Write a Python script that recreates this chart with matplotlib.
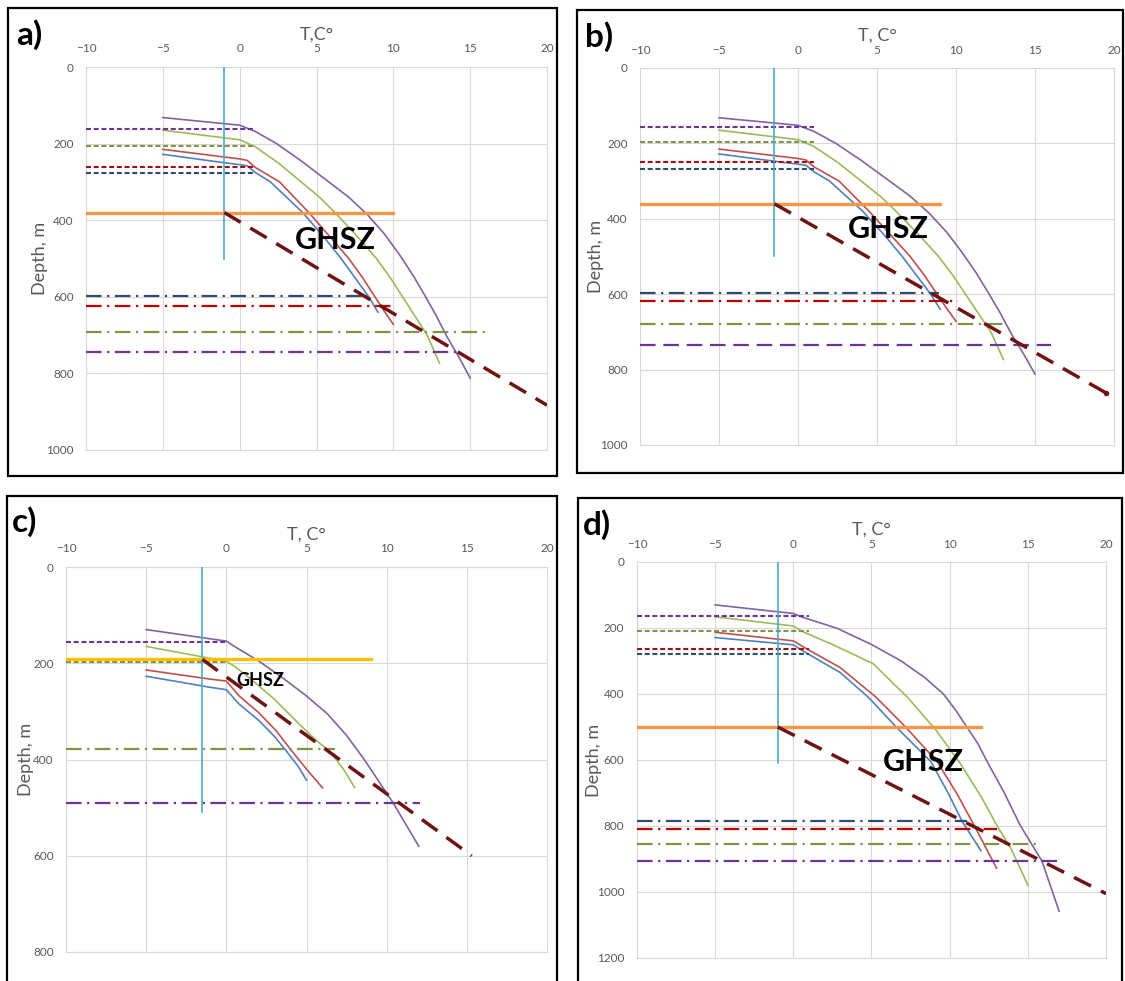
import matplotlib.pyplot as plt
from matplotlib.patches import Rectangle

plt.rcParams['font.family'] = ['Lato', 'DejaVu Sans']

W, H = 1125, 981

# ---- temperature profiles (T in C, depth in m) ----
# panels a) and b) use the same four profiles
ab_purple_t = [-5, 0, 1, 2.4, 4, 5.8, 7.1, 8.3, 9.4, 10.4, 11.3, 12.1, 12.8, 13.5, 14.3, 15]
ab_purple_d = [132, 152, 168, 200, 245, 300, 340, 385, 435, 490, 545, 600, 650, 705, 760, 812]
ab_green_t = [-5, 0, 1, 2.5, 4, 5.2, 6.2, 7.6, 8.9, 9.8, 10.6, 11.4, 12.2, 13]
ab_green_d = [165, 190, 208, 250, 300, 340, 380, 440, 500, 550, 600, 650, 700, 773]
ab_red_t = [-5, -1, 0, 0.5, 1, 2.6, 4.5, 5.8, 7.1, 8, 8.8, 9.4, 10]
ab_red_d = [215, 235, 240, 244, 262, 300, 380, 440, 500, 550, 600, 637, 672]
ab_blue_t = [-5, -1, 0, 0.5, 1, 2, 3, 4.1, 5.4, 6.6, 7.5, 8.4, 9]
ab_blue_d = [228, 250, 255, 258, 275, 300, 338, 380, 440, 500, 550, 600, 640]

c_purple_t = [-5, 0, 0.5, 2, 3.5, 5, 6.3, 7.5, 8.6, 9.5, 10.4, 11.2, 12]
c_purple_d = [130, 154, 165, 195, 230, 268, 305, 350, 400, 445, 490, 535, 580]
c_green_t = [-5, 0, 0.5, 1.5, 3, 4.5, 5.6, 6.5, 7.3, 8]
c_green_d = [165, 196, 206, 232, 275, 325, 360, 385, 420, 458]
c_red_t = [-5, -1, 0, 0.8, 2, 3.1, 4.1, 5, 6]
c_red_d = [214, 233, 237, 268, 302, 340, 383, 420, 459]
c_blue_t = [-5, -1, 0, 0.8, 2, 3, 3.8, 4.5, 5]
c_blue_d = [227, 250, 255, 285, 318, 352, 385, 415, 443]

d_purple_t = [-5, 0, 0.5, 2.8, 5, 6.9, 8.4, 9.6, 10.4, 11.1, 11.8, 12.4, 13.5, 14.5, 15.9, 16.4, 17]
d_purple_d = [130, 156, 166, 201, 250, 300, 350, 400, 450, 500, 550, 605, 700, 797, 906, 975, 1058]
d_green_t = [-5, 0, 0.5, 2.5, 5.1, 7.3, 9.1, 10.7, 12, 13.1, 13.9, 15]
d_green_d = [166, 194, 209, 250, 308, 410, 508, 612, 710, 805, 866, 979]
d_red_t = [-5, 0, 0.7, 3, 5.3, 7.2, 9.2, 10.5, 11.7, 13]
d_red_d = [213, 239, 259, 320, 410, 501, 605, 705, 810, 928]
d_blue_t = [-5, 0, 0.7, 3, 4.8, 6.6, 8.8, 9.9, 10.8, 12]
d_blue_d = [229, 251, 272, 335, 410, 501, 605, 700, 786, 875]

# ---- horizontal marker lines: depth and right-hand end temperature ----
a_short_depth = [163, 205, 261, 278]
a_short_end = [1, 1, 1, 1]
a_deep_depth = [597, 623, 693, 743]
a_deep_end = [8.3, 10, 16, 14.3]
b_short_depth = [157, 196, 250, 267]
b_short_end = [1, 1, 1, 1]
b_deep_depth = [597, 617, 680, 735]
b_deep_end = [8.9, 10.1, 13, 16]
c_short_depth = [156, 197]
c_short_end = [0, 0]
c_deep_depth = [378, 490]
c_deep_end = [6.8, 12.1]
d_short_depth = [164, 208, 263, 280]
d_short_end = [1, 1, 1, 1]
d_deep_depth = [786, 808, 855, 905]
d_deep_end = [11.1, 13, 15.6, 17]

# freezing line (T, bottom depth), sea-floor line (depth, end T), GHSZ base line
a_cyan = (-1, 500)
b_cyan = (-1.5, 500)
c_cyan = (-1.5, 510)
d_cyan = (-1, 610)
a_floor = (380, 10)
b_floor = (360, 9)
c_floor = (192, 9)
d_floor = (500, 12)
a_ghsz_t, a_ghsz_d = [-1, 20], [380, 883]
b_ghsz_t, b_ghsz_d = [-1.5, 19.5], [360, 862]
c_ghsz_t, c_ghsz_d = [-1.5, 15.3], [192, 600]
d_ghsz_t, d_ghsz_d = [-1, 20], [500, 1005]
a_text = (6.2, 453)
b_text = (5.7, 428)
c_text = (2.1, 235)
d_text = (8.3, 606)

# ---- styles ----
PURPLE, GREEN, RED, BLUE = '#8064A2', '#9BBB59', '#C0504D', '#4F81BD'
D_PURPLE, D_OLIVE, D_RED, D_BLUE, D_RED2 = '#6A3596', '#7F9448', '#A01010', '#2F4B70', '#C00000'
CYAN, ORANGE, YELLOW, GHSZ = '#4BACC6', '#F79646', '#FFC000', '#6E1414'
GREY = '#595959'
SHORT_DASH = (2.4, 1.3)
DASH_DOT = (7, 2.5, 1, 2.5)
LONG_DASH = (7, 3.5)


def frame(x0, y0, x1, y1):
    fig.add_artist(Rectangle((x0 / W, 1 - y1 / H), (x1 - x0) / W, (y1 - y0) / H,
                             transform=fig.transFigure, fill=False, ec='black', lw=1.6))


def make_axes(x0, y0, x1, y1):
    return fig.add_axes([x0 / W, 1 - y1 / H, (x1 - x0) / W, (y1 - y0) / H])


def draw_panel(ax, curves, short, deep, cyan, floor, floor_col, ghsz, text, text_size,
               ymax, xlabel, ylabel_x):
    ax.set_xlim(-10, 20)
    ax.set_ylim(ymax, 0)
    ax.set_xticks(range(-10, 21, 5))
    ax.set_yticks(range(0, ymax + 1, 200))
    ax.xaxis.tick_top()
    ax.xaxis.set_label_position('top')
    ax.tick_params(length=0, labelsize=8.5, labelcolor=GREY, pad=9)
    ax.grid(True, color='#D9D9D9', lw=0.8)
    for s in ax.spines.values():
        s.set_color('#D9D9D9')
        s.set_linewidth(0.8)
    ax.set_axisbelow(True)
    ax.set_xlabel(xlabel, fontsize=13, color=GREY, labelpad=3)
    ax.set_ylabel('Depth, m', fontsize=13, color=GREY)
    ax.yaxis.set_label_coords(ylabel_x, 0.5)

    for t, d, col in curves:
        ax.plot(t, d, color=col, lw=1.2, zorder=3)
    for depth, end, col in short:
        ax.plot([-10, end], [depth, depth], color=col, lw=1.5, dashes=SHORT_DASH, zorder=4)
    for depth, end, col, dash in deep:
        ax.plot([-10, end], [depth, depth], color=col, lw=1.6, dashes=dash, zorder=4)
    ax.plot([cyan[0], cyan[0]], [0, cyan[1]], color=CYAN, lw=1.2, zorder=5)
    ax.plot([-10, floor[1]], [floor[0], floor[0]], color=floor_col, lw=2.4, zorder=5)
    ax.plot(ghsz[0], ghsz[1], color=GHSZ, lw=2.5, dashes=(5.5, 3.2), zorder=6)
    ax.text(text[0], text[1], 'GHSZ', fontsize=text_size, fontweight='bold',
            ha='center', va='center', zorder=7)


fig = plt.figure(figsize=(W / 100, H / 100), dpi=100)

frame(8, 8, 557, 476)
frame(577, 10, 1123, 473)
frame(7, 496, 557, 990)
frame(578, 498, 1122, 990)

ax_a = make_axes(86, 67, 547, 450)
ax_b = make_axes(640, 68, 1114, 445)
ax_c = make_axes(66, 567, 547, 952)
ax_d = make_axes(637, 562, 1106, 958)

short4 = [D_PURPLE, D_OLIVE, D_RED, D_BLUE]
deep4 = [D_BLUE, D_RED2, D_OLIVE, D_PURPLE]

ab_curves = [(ab_purple_t, ab_purple_d, PURPLE), (ab_green_t, ab_green_d, GREEN),
             (ab_red_t, ab_red_d, RED), (ab_blue_t, ab_blue_d, BLUE)]

draw_panel(ax_a, ab_curves,
           list(zip(a_short_depth, a_short_end, short4)),
           list(zip(a_deep_depth, a_deep_end, deep4, [DASH_DOT] * 4)),
           a_cyan, a_floor, ORANGE, (a_ghsz_t, a_ghsz_d), a_text, 22, 1000, 'T,C°', -0.083)

draw_panel(ax_b, ab_curves,
           list(zip(b_short_depth, b_short_end, short4)),
           list(zip(b_deep_depth, b_deep_end, deep4, [DASH_DOT] * 3 + [LONG_DASH])),
           b_cyan, b_floor, ORANGE, (b_ghsz_t, b_ghsz_d), b_text, 22, 1000, 'T, C°', -0.077)
ax_b.plot(b_ghsz_t[-1], b_ghsz_d[-1], 'o', color=GHSZ, ms=3, zorder=6)

draw_panel(ax_c, [(c_purple_t, c_purple_d, PURPLE), (c_green_t, c_green_d, GREEN),
                  (c_red_t, c_red_d, RED), (c_blue_t, c_blue_d, BLUE)],
           list(zip(c_short_depth, c_short_end, [D_PURPLE, D_OLIVE])),
           list(zip(c_deep_depth, c_deep_end, [D_OLIVE, D_PURPLE], [DASH_DOT] * 2)),
           c_cyan, c_floor, YELLOW, (c_ghsz_t, c_ghsz_d), c_text, 13, 800, 'T, C°', -0.067)

draw_panel(ax_d, [(d_purple_t, d_purple_d, PURPLE), (d_green_t, d_green_d, GREEN),
                  (d_red_t, d_red_d, RED), (d_blue_t, d_blue_d, BLUE)],
           list(zip(d_short_depth, d_short_end, short4)),
           list(zip(d_deep_depth, d_deep_end, deep4, [DASH_DOT] * 4)),
           d_cyan, d_floor, ORANGE, (d_ghsz_t, d_ghsz_d), d_text, 22, 1200, 'T, C°', -0.075)

for label, x, y in [('a)', 16, 35), ('b)', 585, 37), ('c)', 12, 522), ('d)', 583, 525)]:
    fig.text(x / W, 1 - y / H, label, fontsize=24, fontweight='bold', ha='left', va='center')

fig.savefig('out.png', dpi=100)
